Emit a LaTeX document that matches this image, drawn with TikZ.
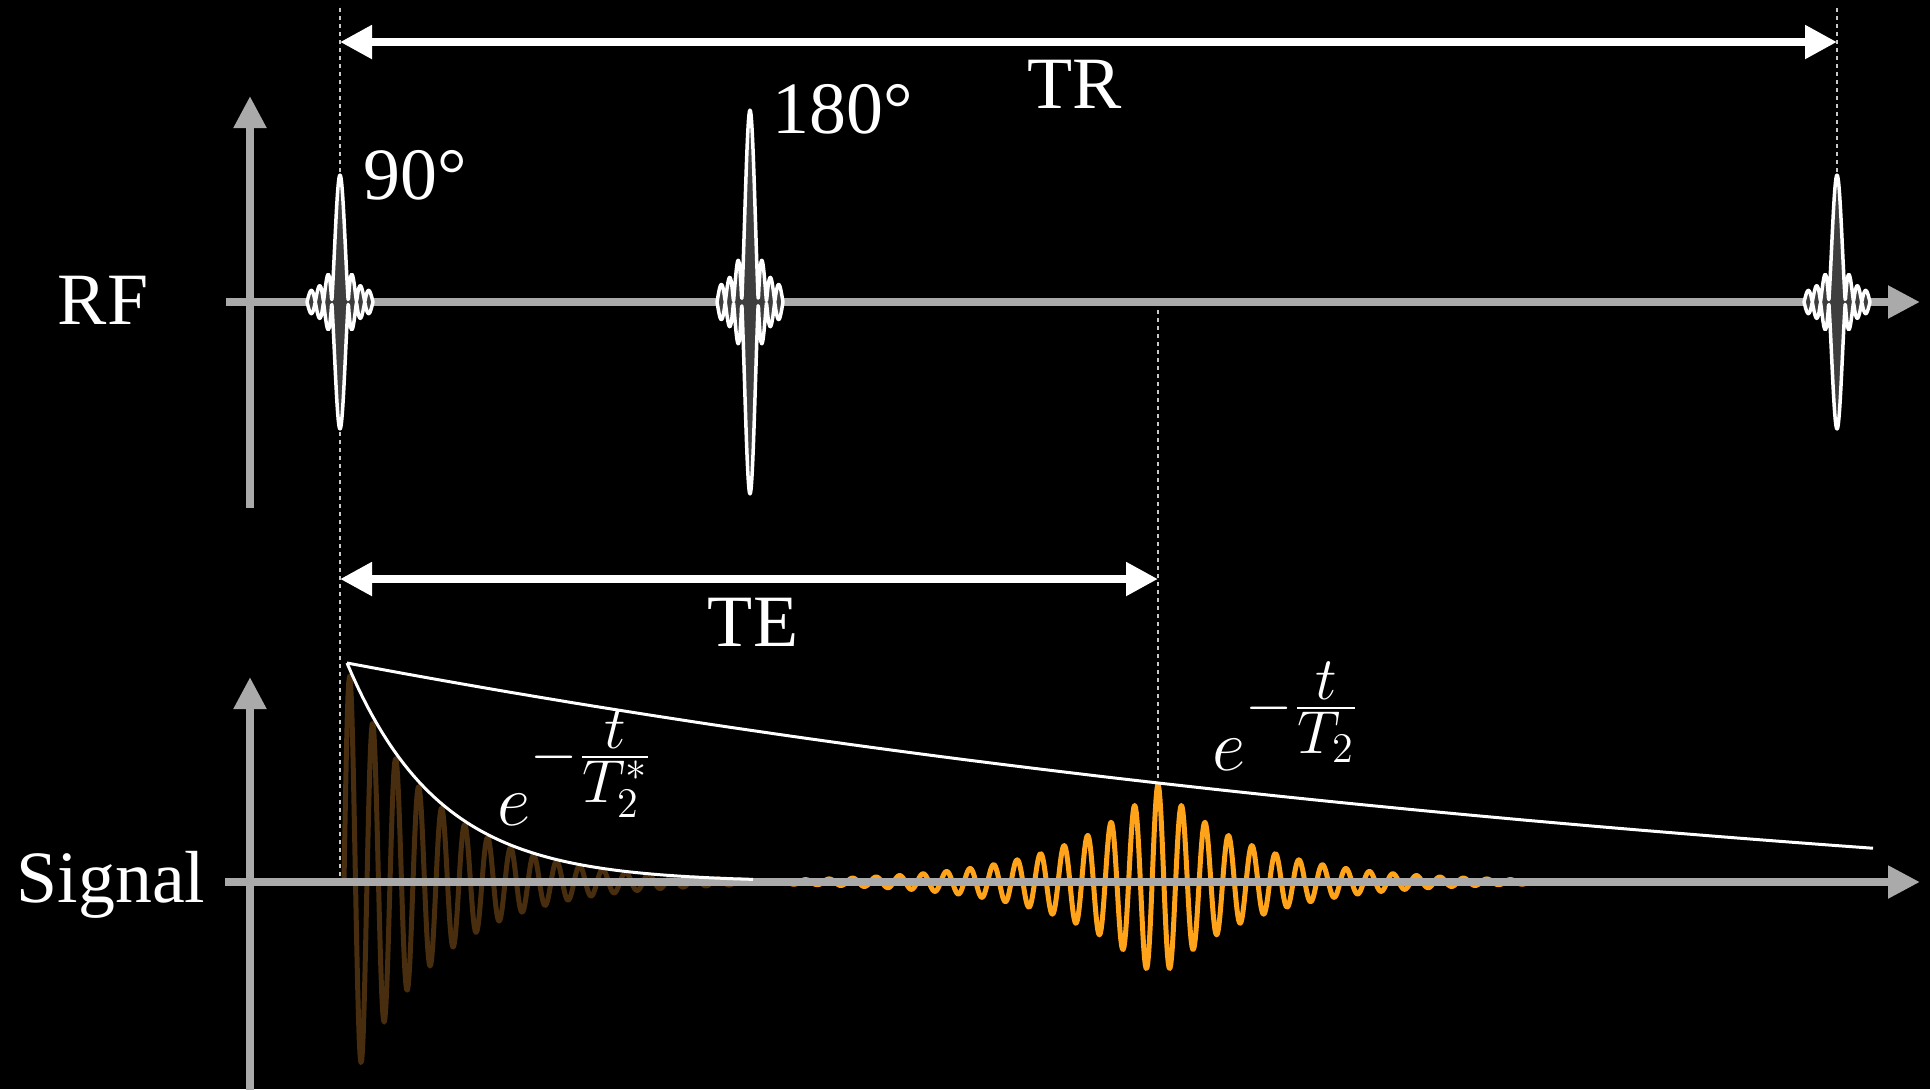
\documentclass[tikz,border=0pt]{standalone}
\usepackage[no-math]{fontspec}
\setmainfont{Liberation Serif}
\usepackage{amsmath}
\usetikzlibrary{arrows.meta,backgrounds}
\definecolor{axgray}   {RGB}{170,170,170}
\definecolor{guidegray}{RGB}{200,200,200}
\definecolor{echoorange}{RGB}{255,163, 26}
\definecolor{fidbrown} {RGB}{ 72, 46, 14}
\definecolor{pulsegray}{RGB}{ 62, 62, 62}
\tikzset{
  ax/.style={draw=axgray,line width=0.8mm,
             -{Triangle[length=3.2mm,width=3.1mm]}},
  spanarr/.style={draw=white,line width=0.8mm,
             {Triangle[length=3.2mm,width=3.2mm]}-{Triangle[length=3.2mm,width=3.2mm]}},
  guide/.style={draw=guidegray,line width=0.2mm,dash pattern=on 0.4mm off 0.4mm},
  rfpulse/.style={draw=white,fill=pulsegray,line width=0.35mm,line join=round},
  env/.style={draw=white,line width=0.3mm},
  echo/.style={draw=echoorange,line width=0.5mm,line join=round},
  fid/.style={echo,draw=fidbrown},
  lbl/.style={text=white,inner sep=0pt,font=\fontsize{21}{25}\selectfont},
}
% sinc shaped RF pulse: name, x, height
\newcommand{\sincpulse}[3]{%
  \coordinate (#1) at (#2,302);
  \path[rfpulse] plot[domain=-4:4,samples=160]
      ({#2+8.25*\x},{302-#3*abs(sin(180*\x)/(pi*\x))})
    -- plot[domain=4:-4,samples=160]
      ({#2+8.25*\x},{302+#3*abs(sin(180*\x)/(pi*\x))}) -- cycle;
}
% decay exponent
\newcommand{\decay}[1]{e^{\mbox{\raisebox{1.3mm}{\fontsize{17.28}{19}\selectfont
  $-\frac{\textstyle t}{\textstyle #1}$}}}}

\begin{document}
\begin{tikzpicture}[x=0.1mm,y=-0.1mm]
  \fill[black] (0,0) rectangle (1930,1089);
  \useasboundingbox (0,0) rectangle (1930,1089);

  % Time marks
  \coordinate (top90)  at (340,8);
  \coordinate (sig90)  at (340,882);
  \coordinate (topTR)  at (1837,8);
  \coordinate (rfTR)   at (1837,302);
  \coordinate (rfTE)   at (1158,302);
  \coordinate (envTE)  at (1158,781);
  \coordinate (trL)    at (340,42);
  \coordinate (trR)    at (1837,42);
  \coordinate (teL)    at (340,579);
  \coordinate (teR)    at (1158,579);

  % Guides
  \draw[guide] (top90) -- (sig90);
  \draw[guide] (topTR) -- (rfTR);
  \draw[guide] (rfTE)  -- (envTE);

  % Signal: FID and echo
  \draw[fid] plot[domain=344:745,samples=500]
    (\x,{882-219*exp(-(\x-344)/90)*sin((\x-344)/23*360)});
  \draw[echo] plot[domain=790:1526,samples=900]
    (\x,{882-98*exp(-abs(\x-1158)/95)*cos((\x-1158)/23.5*360)});

  % Axes
  \draw[ax] (250,508)  -- (250,96);
  \draw[ax] (226,302)  -- (1920,302);
  \draw[ax] (250,1100) -- (250,677);
  \draw[ax] (225,882)  -- (1920,882);

  % Envelopes
  \draw[env] plot[domain=347:1873,samples=80]
    (\x,{882-(300*exp(-(\x-347)/1588)-81)});
  \draw[env] plot[domain=347:753,samples=80]
    (\x,{882-219*exp(-(\x-347)/92)});

  % RF pulses
  \sincpulse{p90}{340}{127}
  \sincpulse{p180}{750}{192}
  \sincpulse{pTR}{1837}{127}

  % TR and TE
  \draw[spanarr] (trL) -- (trR);
  \draw[spanarr] (teL) -- (teR);

  % Labels
  \node[lbl,anchor=base] (rf)  at (103,324) {RF};
  \node[lbl,anchor=base] (sig) at (111,902) {Signal};
  \node[lbl,anchor=base] (tr)  at (1075,108) {TR};
  \node[lbl,anchor=base] (te)  at (753,646) {TE};
  \node[lbl,anchor=base west] (a90)  at (363,199) {90°};
  \node[lbl,anchor=base west] (a180) at (772,133) {180°};
  \node[lbl,anchor=base west] (t2s)  at (497,825) {$\decay{T_2^*}$};
  \node[lbl,anchor=base west] (t2)   at (1212,770) {$\decay{T_2}$};
\end{tikzpicture}
\end{document}
